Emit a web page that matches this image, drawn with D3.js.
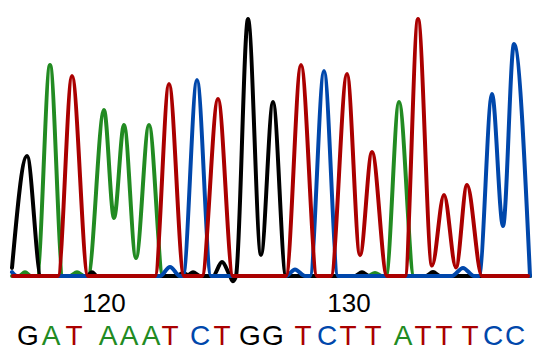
<!DOCTYPE html>
<html><head><meta charset="utf-8">
<script src="https://cdn.jsdelivr.net/npm/d3@7"></script>
<style>html,body{margin:0;padding:0;background:#fff;}svg{display:block;}</style>
</head><body><svg id="chart" width="543" height="360"></svg>
<script>
// Trace data: [scan position, signal] key points
const traceG = [[12,31],[27,462],[41,0],[87,0],[92,14],[97,0],[177,0],[183,12],[188,4],[193,14],[200,0],[213,0],[222,54],[230,0],[233,-20],[236,0],[248,988],[261,81],[273,669],[286,0],[355,0],[362,14],[369,0],[426,0],[433,15],[440,0],[530,0]];
const traceA = [[12,0],[19,0],[25,14],[31,0],[37,0],[50,812],[63,0],[70,0],[77,14],[84,0],[88,0],[104,638],[114,223],[124,581],[136,69],[149,581],[163,0],[368,0],[375,12],[382,0],[386,0],[399,669],[414,0],[530,0]];
const traceC = [[12,15],[17,0],[160,0],[170,35],[180,0],[183,0],[197,754],[211,0],[286,0],[295,25],[305,0],[310,0],[324,788],[338,0],[452,0],[463,31],[474,0],[479,0],[492,700],[503,192],[514,892],[530,0]];
const traceT = [[13,0],[58,0],[72,769],[88,0],[155,0],[169,738],[184,0],[202,0],[218,681],[233,0],[286,0],[301,812],[317,0],[331,0],[347,777],[360,80],[372,477],[387,0],[405,0],[418,988],[432,40],[444,312],[456,33],[467,350],[482,0],[528,0]];

// Base calls
const bases = ["G","A","T","A","A","A","T","C","T","G","G","T","C","T","T","A","T","T","T","C","C"];
const callPositions = [28,51,74,108,129,151,170,200,222,250,273,303,327,348,373,403,423,444,470,493,515];
const tickNumbers = [120, 130];
const tickPositions = [104, 349];

const colors = {G:"#000000", A:"#228b22", T:"#aa0000", C:"#0047ab"};

const svg = d3.select("#chart");
const x = d3.scaleLinear().domain([12, 530]).range([12, 530]);
const y = d3.scaleLinear().domain([0, 1000]).range([276, 16]);

const line = d3.line().x(d => x(d[0])).y(d => y(d[1])).curve(d3.curveMonotoneX);

const traces = [["A", traceA], ["G", traceG], ["C", traceC], ["T", traceT]];
svg.append("g").selectAll("path").data(traces).join("path")
  .attr("d", d => line(d[1]))
  .attr("fill", "none")
  .attr("stroke", d => colors[d[0]])
  .attr("stroke-width", 4)
  .attr("stroke-linejoin", "round")
  .attr("stroke-linecap", "round");

// Position numbers
svg.append("g").selectAll("text").data(tickNumbers).join("text")
  .attr("x", (d, i) => x(tickPositions[i]))
  .attr("y", 312)
  .attr("text-anchor", "middle")
  .attr("font-family", "'Liberation Sans', sans-serif")
  .attr("font-size", 26)
  .attr("fill", "#000")
  .text(d => d);

// Base letters
svg.append("g").selectAll("text").data(bases).join("text")
  .attr("x", (d, i) => x(callPositions[i]))
  .attr("y", 345)
  .attr("text-anchor", "middle")
  .attr("font-family", "'Liberation Sans', sans-serif")
  .attr("font-size", 28)
  .attr("fill", d => colors[d])
  .text(d => d);
</script>
</body></html>
